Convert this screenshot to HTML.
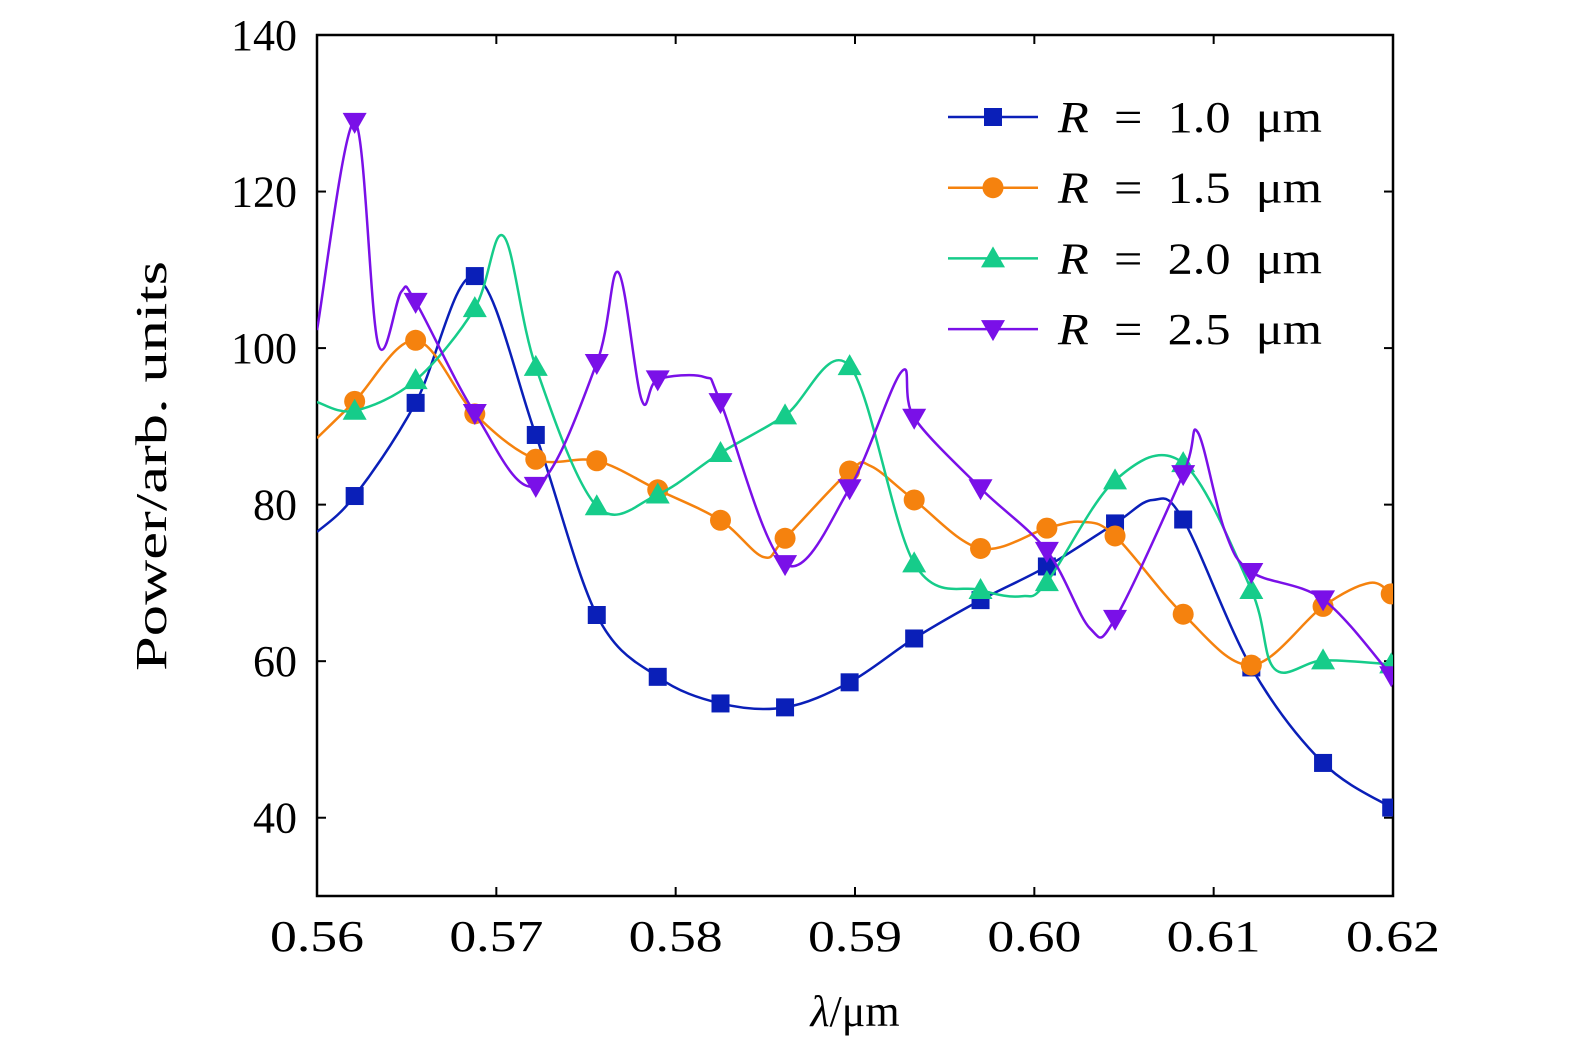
<!DOCTYPE html>
<html><head><meta charset="utf-8"><style>
html,body{margin:0;background:#fff;overflow:hidden;width:1575px;height:1053px;}
svg{display:block;}
svg text{font-family:"Liberation Serif",serif;fill:#000;}
</style></head><body>
<svg id="chart" width="1575" height="1053">
<g id="axes"></g><g id="series"></g><g id="legend"></g>
</svg>
<script>
const xTicks=[0.56,0.57,0.58,0.59,0.60,0.61,0.62];
const xTickLabels=["0.56","0.57","0.58","0.59","0.60","0.61","0.62"];
const yTicks=[40,60,80,100,120,140];
const markerX=[0.5621,0.5655,0.5688,0.5722,0.5756,0.5790,0.5825,0.5861,0.5897,0.5933,0.5970,0.6007,0.6045,0.6083,0.6121,0.6161,0.6199];
const blueY=[81.1,93.0,109.2,88.9,65.9,58.0,54.6,54.1,57.3,62.9,67.8,72.1,77.6,78.1,59.2,47.0,41.3];
const blueExtraX=[0.5600,0.6066];
const blueExtraY=[76.5,80.6];
const orangeY=[93.2,101.0,91.6,85.8,85.6,81.9,78.0,75.7,84.3,80.6,74.4,77.0,76.0,66.0,59.5,67.0,68.6];
const orangeExtraX=[0.5600,0.5849,0.5909,0.6027,0.6187];
const orangeExtraY=[88.5,73.3,84.9,77.8,70.0];
const greenY=[92.0,95.9,105.1,97.6,79.8,81.3,86.6,91.4,97.7,72.5,69.1,70.1,83.1,85.3,69.1,60.1,59.6];
const greenExtraX=[0.5600,0.5704,0.5993,0.6134];
const greenExtraY=[93.1,114.3,68.3,59.0];
const purpleY=[128.9,105.9,91.7,82.4,98.1,96.0,93.1,72.4,82.1,91.1,82.1,74.1,65.4,83.9,71.4,67.9,58.2];
const purpleExtraX=[0.5600,0.5634,0.5647,0.5768,0.5781,0.5816,0.5926,0.6031,0.6091,0.6106];
const purpleExtraY=[102.3,100.6,107.2,109.7,93.4,96.3,97.0,64.2,89.3,76.8];
const L=317,R=1393,T=35,B=896;
const X=v=>L+(v-0.56)/0.06*(R-L);
const Y=v=>T+(140-v)/110*(B-T);
const NS='http://www.w3.org/2000/svg';
function mk(tag,attrs,parent){const e=document.createElementNS(NS,tag);for(const k in attrs)e.setAttribute(k,attrs[k]);parent.appendChild(e);return e;}
const axes=document.getElementById('axes');
const frame=mk('rect',{x:L,y:T,width:R-L,height:B-T,fill:'none',stroke:'#000','stroke-width':2.5},axes);


xTicks.forEach((v,i)=>{
 mk('line',{x1:X(v),x2:X(v),y1:B,y2:B-9,stroke:'#000','stroke-width':2},axes);
 mk('line',{x1:X(v),x2:X(v),y1:T,y2:T+9,stroke:'#000','stroke-width':2},axes);
 const t=mk('text',{x:X(v),y:951,'font-size':44,'text-anchor':'middle',textLength:94,lengthAdjust:'spacingAndGlyphs'},axes);t.textContent=xTickLabels[i];
 
 
});
yTicks.forEach(v=>{
 mk('line',{x1:L,x2:L+9,y1:Y(v),y2:Y(v),stroke:'#000','stroke-width':2},axes);
 mk('line',{x1:R,x2:R-9,y1:Y(v),y2:Y(v),stroke:'#000','stroke-width':2},axes);
 const t=mk('text',{x:297,y:Y(v)+15,'font-size':44,'text-anchor':'end'},axes);t.textContent=String(v);
 
 
});
const xt=mk('text',{x:855,y:1026,'font-size':44,'text-anchor':'middle'},axes);
xt.innerHTML='<tspan font-style="italic">λ</tspan>/μm';


const yt=mk('text',{x:0,y:0,'font-size':44,'text-anchor':'middle',textLength:410,lengthAdjust:'spacingAndGlyphs',transform:'translate(166,466) rotate(-90)'},axes);
yt.textContent='Power/arb. units';



function path(pts){
 let d='M'+pts[0][0]+','+pts[0][1];
 for(let i=0;i<pts.length-1;i++){
  const p0=pts[Math.max(0,i-1)],p1=pts[i],p2=pts[i+1],p3=pts[Math.min(pts.length-1,i+2)];
  const c1=[p1[0]+(p2[0]-p0[0])/6,p1[1]+(p2[1]-p0[1])/6];
  const c2=[p2[0]-(p3[0]-p1[0])/6,p2[1]-(p3[1]-p1[1])/6];
  d+=' C'+c1.join(',')+' '+c2.join(',')+' '+p2.join(',');
 }
 return d;
}
function marker(type,cx,cy,color,g){
 if(type==='sq') return mk('rect',{x:cx-9,y:cy-9,width:18,height:18,fill:color},g);
 if(type==='ci') return mk('circle',{cx:cx,cy:cy,r:10.5,fill:color},g);
 if(type==='up') return mk('polygon',{points:`${cx},${cy-12} ${cx-12},${cy+9} ${cx+12},${cy+9}`,fill:color},g);
 return mk('polygon',{points:`${cx},${cy+12} ${cx-12},${cy-9} ${cx+12},${cy-9}`,fill:color},g);
}
const seriesG=document.getElementById('series');
const series=[
 {name:'r-1-0',color:'#0a1fb8',ys:blueY,ex:blueExtraX,ey:blueExtraY,m:'sq',label:'1.0'},
 {name:'r-1-5',color:'#f5820e',ys:orangeY,ex:orangeExtraX,ey:orangeExtraY,m:'ci',label:'1.5'},
 {name:'r-2-0',color:'#16cc8a',ys:greenY,ex:greenExtraX,ey:greenExtraY,m:'up',label:'2.0'},
 {name:'r-2-5',color:'#7a10e8',ys:purpleY,ex:purpleExtraX,ey:purpleExtraY,m:'dn',label:'2.5'}
];
const clip=mk('clipPath',{id:'pc'},document.getElementById('chart'));
mk('rect',{x:L,y:T,width:R-L,height:B-T},clip);
series.forEach(s=>{
 const g=mk('g',{'clip-path':'url(#pc)'},seriesG);
 
 
 const pts=markerX.map((x,i)=>[x,s.ys[i]]).concat(s.ex.map((x,i)=>[x,s.ey[i]])).sort((a,b)=>a[0]-b[0]).map(p=>[X(p[0]),Y(p[1])]);
 const ln=mk('path',{d:path(pts),fill:'none',stroke:s.color,'stroke-width':2.5},g);
 
 
 markerX.forEach((x,i)=>{
  const m=marker(s.m,X(x),Y(s.ys[i]),s.color,g);
  
  
 });
});
const lg=document.getElementById('legend');
series.forEach((s,i)=>{
 const y=117+i*70.7;
 const g=mk('g',{},lg);
 
 
 mk('line',{x1:948,x2:1038,y1:y,y2:y,stroke:s.color,'stroke-width':2.5},g);
 marker(s.m,993,y,s.color,g);
 const t=mk('text',{x:1058,y:y+15,'font-size':44,textLength:264,lengthAdjust:'spacingAndGlyphs'},g);
 t.innerHTML='<tspan font-style="italic">R</tspan>\u2002=\u2002'+s.label+'\u2002μm';
});
</script>
</body></html>
